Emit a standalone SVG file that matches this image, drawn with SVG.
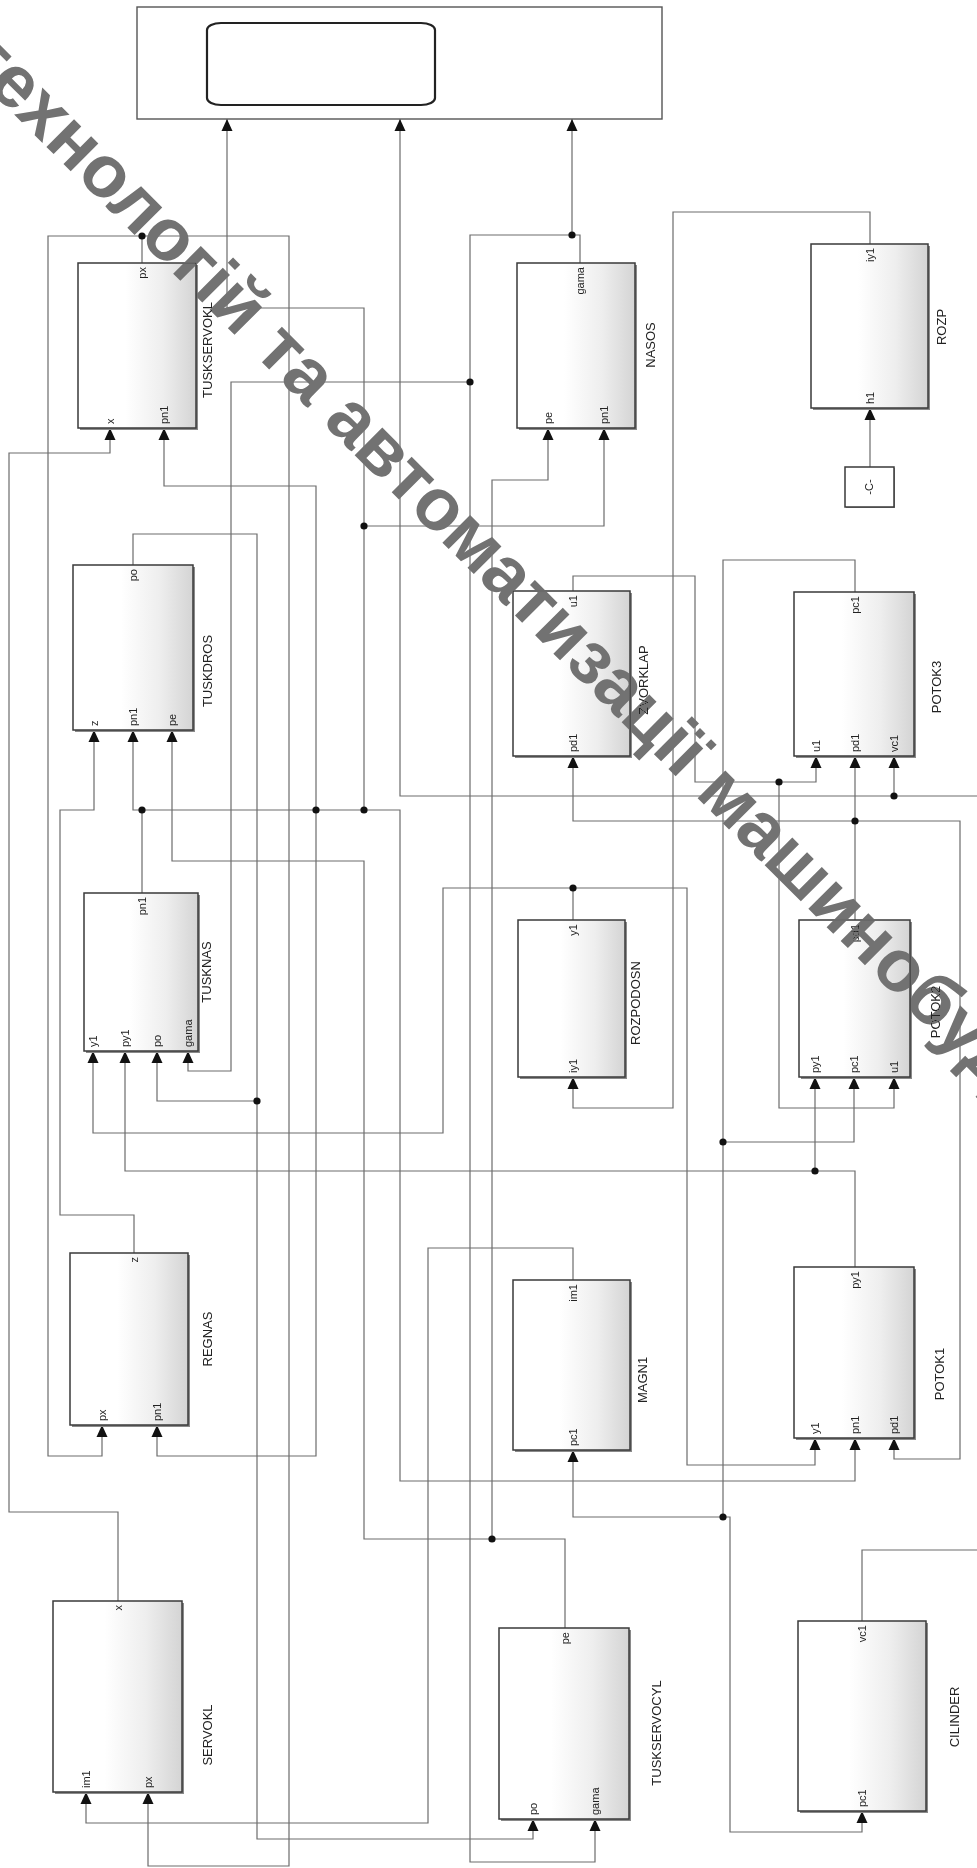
<svg xmlns="http://www.w3.org/2000/svg" width="977" height="1868" viewBox="0 0 977 1868">
<defs>
<linearGradient id="bg" x1="0" y1="0" x2="1" y2="0">
<stop offset="0" stop-color="#ffffff"/>
<stop offset="0.4" stop-color="#ffffff"/>
<stop offset="0.72" stop-color="#eeeeee"/>
<stop offset="1" stop-color="#d4d4d4"/>
</linearGradient>
<marker id="ah" markerUnits="userSpaceOnUse" markerWidth="12" markerHeight="12" viewBox="0 0 12 12" refX="12" refY="6" orient="auto">
<path d="M0,0.5 L12,6 L0,11.5 z" fill="#111"/>
</marker>
<style>
.ln{fill:none;stroke:#6c6c6c;stroke-width:1.2}
.dot{fill:#111}
.blk{fill:url(#bg);stroke:#3a3a3a;stroke-width:1.5}
.sh{fill:#8a8a8a}
.nm{font-family:"Liberation Sans",Arial,sans-serif;font-size:13px;fill:#222;text-anchor:middle}
.pt{font-family:"Liberation Sans",Arial,sans-serif;font-size:11px;fill:#222}
.ps{text-anchor:start}
.pe{text-anchor:end}
.wm{font-family:"Liberation Sans",Arial,sans-serif;font-weight:bold;font-size:74px;fill:#727272;mix-blend-mode:darken}
</style>
</defs>
<rect x="0" y="0" width="977" height="1868" fill="#ffffff"/>

<g id="connectors">
<path class="ln" d="M142,263 V236 H48 V1456 H102 V1425" marker-end="url(#ah)"/>
<path class="ln" d="M142,236 H289 V1866 H148 V1792" marker-end="url(#ah)"/>
<path class="ln" d="M580,263 V235 H572 V119" marker-end="url(#ah)"/>
<path class="ln" d="M572,235 H470 V1862 H595 V1819" marker-end="url(#ah)"/>
<path class="ln" d="M470,382 H231 V1071 H188 V1051" marker-end="url(#ah)"/>
<path class="ln" d="M870,244 V212 H673 V1108 H573 V1077" marker-end="url(#ah)"/>
<path class="ln" d="M870,467 V408" marker-end="url(#ah)"/>
<path class="ln" d="M118,1601 V1512 H9 V453 H110 V428" marker-end="url(#ah)"/>
<path class="ln" d="M142,893 V810 H133 V730" marker-end="url(#ah)"/>
<path class="ln" d="M142,810 H364"/>
<path class="ln" d="M316,810 V486 H164 V428" marker-end="url(#ah)"/>
<path class="ln" d="M316,810 V1456 H157 V1425" marker-end="url(#ah)"/>
<path class="ln" d="M364,810 V308 H227 V119" marker-end="url(#ah)"/>
<path class="ln" d="M364,526 H604 V428" marker-end="url(#ah)"/>
<path class="ln" d="M364,810 H400 V1481 H855 V1438" marker-end="url(#ah)"/>
<path class="ln" d="M133,565 V534 H257 V1839 H533 V1819" marker-end="url(#ah)"/>
<path class="ln" d="M257,1101 H157 V1051" marker-end="url(#ah)"/>
<path class="ln" d="M134,1253 V1215 H60 V810 H94 V730" marker-end="url(#ah)"/>
<path class="ln" d="M565,1628 V1539 H364 V861 H172 V730" marker-end="url(#ah)"/>
<path class="ln" d="M492,1539 V480 H548 V428" marker-end="url(#ah)"/>
<path class="ln" d="M980,796 H400 V119" marker-end="url(#ah)"/>
<path class="ln" d="M894,796 V756" marker-end="url(#ah)"/>
<path class="ln" d="M862,1621 V1550 H980"/>
<path class="ln" d="M573,920 V888 H443 V1133 H93 V1051" marker-end="url(#ah)"/>
<path class="ln" d="M573,888 H687 V1465 H815 V1438" marker-end="url(#ah)"/>
<path class="ln" d="M855,1267 V1171 H125 V1051" marker-end="url(#ah)"/>
<path class="ln" d="M815,1171 V1077" marker-end="url(#ah)"/>
<path class="ln" d="M573,1280 V1248 H428 V1823 H86 V1792" marker-end="url(#ah)"/>
<path class="ln" d="M573,591 V576 H695 V782 H816 V756" marker-end="url(#ah)"/>
<path class="ln" d="M779,782 V1108 H894 V1077" marker-end="url(#ah)"/>
<path class="ln" d="M855,592 V560 H723 V1517 H573 V1450" marker-end="url(#ah)"/>
<path class="ln" d="M723,1142 H854 V1077" marker-end="url(#ah)"/>
<path class="ln" d="M723,1517 H730 V1832 H862 V1811" marker-end="url(#ah)"/>
<path class="ln" d="M855,920 V821 H573 V756" marker-end="url(#ah)"/>
<path class="ln" d="M855,821 V756" marker-end="url(#ah)"/>
<path class="ln" d="M855,821 H960 V1459 H894 V1438" marker-end="url(#ah)"/>
<circle class="dot" cx="142" cy="236" r="3.6"/>
<circle class="dot" cx="572" cy="235" r="3.6"/>
<circle class="dot" cx="470" cy="382" r="3.6"/>
<circle class="dot" cx="142" cy="810" r="3.6"/>
<circle class="dot" cx="316" cy="810" r="3.6"/>
<circle class="dot" cx="364" cy="810" r="3.6"/>
<circle class="dot" cx="364" cy="526" r="3.6"/>
<circle class="dot" cx="257" cy="1101" r="3.6"/>
<circle class="dot" cx="492" cy="1539" r="3.6"/>
<circle class="dot" cx="894" cy="796" r="3.6"/>
<circle class="dot" cx="573" cy="888" r="3.6"/>
<circle class="dot" cx="815" cy="1171" r="3.6"/>
<circle class="dot" cx="779" cy="782" r="3.6"/>
<circle class="dot" cx="723" cy="1142" r="3.6"/>
<circle class="dot" cx="723" cy="1517" r="3.6"/>
<circle class="dot" cx="855" cy="821" r="3.6"/>
</g>

<g id="n-display">
<rect x="137" y="7" width="525" height="112" fill="#fff" stroke="#555" stroke-width="1.4"/>
<rect x="207" y="23" width="228" height="82" rx="14" ry="7" fill="#fff" stroke="#222" stroke-width="2.2"/>
</g>

<g id="n-tuskservokl">
<rect class="sh" x="80" y="265" width="118" height="165"/>
<rect class="blk" x="78" y="263" width="118" height="165"/>
<text class="pt pe" transform="translate(146,267) rotate(-90)">px</text>
<text class="pt ps" transform="translate(114,424) rotate(-90)">x</text>
<text class="pt ps" transform="translate(168,424) rotate(-90)">pn1</text>
<text class="nm" transform="translate(212,350) rotate(-90)">TUSKSERVOKL</text>
</g>

<g id="n-nasos">
<rect class="sh" x="519" y="265" width="118" height="165"/>
<rect class="blk" x="517" y="263" width="118" height="165"/>
<text class="pt pe" transform="translate(584,267) rotate(-90)">gama</text>
<text class="pt ps" transform="translate(552,424) rotate(-90)">pe</text>
<text class="pt ps" transform="translate(608,424) rotate(-90)">pn1</text>
<text class="nm" transform="translate(655,345) rotate(-90)">NASOS</text>
</g>

<g id="n-rozp">
<rect class="sh" x="813" y="246" width="117" height="164"/>
<rect class="blk" x="811" y="244" width="117" height="164"/>
<text class="pt pe" transform="translate(874,248) rotate(-90)">iy1</text>
<text class="pt ps" transform="translate(874,404) rotate(-90)">h1</text>
<text class="nm" transform="translate(946,327) rotate(-90)">ROZP</text>
</g>

<g id="n-const">
<rect x="846" y="468" width="49" height="40" fill="#8a8a8a"/>
<rect x="845" y="467" width="49" height="40" fill="#fff" stroke="#3a3a3a" stroke-width="1.5"/>
<text class="pt" text-anchor="middle" transform="translate(873,487) rotate(-90)">-C-</text>
</g>

<g id="n-tuskdros">
<rect class="sh" x="75" y="567" width="120" height="165"/>
<rect class="blk" x="73" y="565" width="120" height="165"/>
<text class="pt pe" transform="translate(137,569) rotate(-90)">po</text>
<text class="pt ps" transform="translate(98,726) rotate(-90)">z</text>
<text class="pt ps" transform="translate(137,726) rotate(-90)">pn1</text>
<text class="pt ps" transform="translate(176,726) rotate(-90)">pe</text>
<text class="nm" transform="translate(212,671) rotate(-90)">TUSKDROS</text>
</g>

<g id="n-zvorklap">
<rect class="sh" x="515" y="593" width="117" height="165"/>
<rect class="blk" x="513" y="591" width="117" height="165"/>
<text class="pt pe" transform="translate(577,595) rotate(-90)">u1</text>
<text class="pt ps" transform="translate(577,752) rotate(-90)">pd1</text>
<text class="nm" transform="translate(648,680) rotate(-90)">ZVORKLAP</text>
</g>

<g id="n-potok3">
<rect class="sh" x="796" y="594" width="120" height="164"/>
<rect class="blk" x="794" y="592" width="120" height="164"/>
<text class="pt pe" transform="translate(859,596) rotate(-90)">pc1</text>
<text class="pt ps" transform="translate(820,752) rotate(-90)">u1</text>
<text class="pt ps" transform="translate(859,752) rotate(-90)">pd1</text>
<text class="pt ps" transform="translate(898,752) rotate(-90)">vc1</text>
<text class="nm" transform="translate(941,687) rotate(-90)">POTOK3</text>
</g>

<g id="n-tusknas">
<rect class="sh" x="86" y="895" width="114" height="158"/>
<rect class="blk" x="84" y="893" width="114" height="158"/>
<text class="pt pe" transform="translate(146,897) rotate(-90)">pn1</text>
<text class="pt ps" transform="translate(97,1047) rotate(-90)">y1</text>
<text class="pt ps" transform="translate(129,1047) rotate(-90)">py1</text>
<text class="pt ps" transform="translate(161,1047) rotate(-90)">po</text>
<text class="pt ps" transform="translate(192,1047) rotate(-90)">gama</text>
<text class="nm" transform="translate(211,972) rotate(-90)">TUSKNAS</text>
</g>

<g id="n-rozpodosn">
<rect class="sh" x="520" y="922" width="107" height="157"/>
<rect class="blk" x="518" y="920" width="107" height="157"/>
<text class="pt pe" transform="translate(577,924) rotate(-90)">y1</text>
<text class="pt ps" transform="translate(577,1073) rotate(-90)">iy1</text>
<text class="nm" transform="translate(640,1003) rotate(-90)">ROZPODOSN</text>
</g>

<g id="n-potok2">
<rect class="sh" x="801" y="922" width="111" height="157"/>
<rect class="blk" x="799" y="920" width="111" height="157"/>
<text class="pt pe" transform="translate(859,924) rotate(-90)">pd1</text>
<text class="pt ps" transform="translate(819,1073) rotate(-90)">py1</text>
<text class="pt ps" transform="translate(858,1073) rotate(-90)">pc1</text>
<text class="pt ps" transform="translate(898,1073) rotate(-90)">u1</text>
<text class="nm" transform="translate(940,1012) rotate(-90)">POTOK2</text>
</g>

<g id="n-regnas">
<rect class="sh" x="72" y="1255" width="118" height="172"/>
<rect class="blk" x="70" y="1253" width="118" height="172"/>
<text class="pt pe" transform="translate(138,1257) rotate(-90)">z</text>
<text class="pt ps" transform="translate(106,1421) rotate(-90)">px</text>
<text class="pt ps" transform="translate(161,1421) rotate(-90)">pn1</text>
<text class="nm" transform="translate(212,1339) rotate(-90)">REGNAS</text>
</g>

<g id="n-magn1">
<rect class="sh" x="515" y="1282" width="117" height="170"/>
<rect class="blk" x="513" y="1280" width="117" height="170"/>
<text class="pt pe" transform="translate(577,1284) rotate(-90)">im1</text>
<text class="pt ps" transform="translate(577,1446) rotate(-90)">pc1</text>
<text class="nm" transform="translate(647,1380) rotate(-90)">MAGN1</text>
</g>

<g id="n-potok1">
<rect class="sh" x="796" y="1269" width="120" height="171"/>
<rect class="blk" x="794" y="1267" width="120" height="171"/>
<text class="pt pe" transform="translate(859,1271) rotate(-90)">py1</text>
<text class="pt ps" transform="translate(819,1434) rotate(-90)">y1</text>
<text class="pt ps" transform="translate(859,1434) rotate(-90)">pn1</text>
<text class="pt ps" transform="translate(898,1434) rotate(-90)">pd1</text>
<text class="nm" transform="translate(944,1374) rotate(-90)">POTOK1</text>
</g>

<g id="n-servokl">
<rect class="sh" x="55" y="1603" width="129" height="191"/>
<rect class="blk" x="53" y="1601" width="129" height="191"/>
<text class="pt pe" transform="translate(122,1605) rotate(-90)">x</text>
<text class="pt ps" transform="translate(90,1788) rotate(-90)">im1</text>
<text class="pt ps" transform="translate(152,1788) rotate(-90)">px</text>
<text class="nm" transform="translate(212,1735) rotate(-90)">SERVOKL</text>
</g>

<g id="n-tuskservocyl">
<rect class="sh" x="501" y="1630" width="130" height="191"/>
<rect class="blk" x="499" y="1628" width="130" height="191"/>
<text class="pt pe" transform="translate(569,1632) rotate(-90)">pe</text>
<text class="pt ps" transform="translate(537,1815) rotate(-90)">po</text>
<text class="pt ps" transform="translate(599,1815) rotate(-90)">gama</text>
<text class="nm" transform="translate(661,1733) rotate(-90)">TUSKSERVOCYL</text>
</g>

<g id="n-cilinder">
<rect class="sh" x="800" y="1623" width="128" height="190"/>
<rect class="blk" x="798" y="1621" width="128" height="190"/>
<text class="pt pe" transform="translate(866,1625) rotate(-90)">vc1</text>
<text class="pt ps" transform="translate(866,1807) rotate(-90)">pc1</text>
<text class="nm" transform="translate(959,1717) rotate(-90)">CILINDER</text>
</g>

<g id="watermark">
<text class="wm" transform="rotate(45)" x="14" y="71">технологій та автоматизації машинобудування</text>
</g>
</svg>
